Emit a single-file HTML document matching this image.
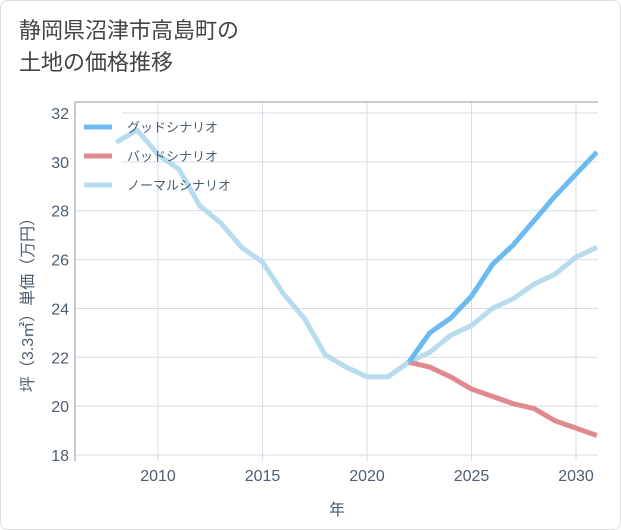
<!DOCTYPE html>
<html><head><meta charset="utf-8">
<style>
body{margin:0;background:#fff;}
#wrap{position:relative;width:619px;height:528px;border:1px solid #ddd;border-radius:8px;overflow:hidden;background:#fff;font-family:"Liberation Sans","Noto Sans CJK JP",sans-serif;}
h1{position:absolute;left:18px;top:14px;margin:0;font-size:22px;font-weight:normal;color:#444;line-height:32px;}
</style></head><body>
<div id="wrap">
<h1>静岡県沼津市高島町の<br>土地の価格推移</h1>
<svg id="chart" width="621" height="530" style="position:absolute;left:0;top:0"></svg>
</div>
<script>
const years=[2008,2009,2010,2011,2012,2013,2014,2015,2016,2017,2018,2019,2020,2021,2022,2023,2024,2025,2026,2027,2028,2029,2030,2031];
const normal=[30.8,31.3,30.3,29.7,28.2,27.5,26.5,25.9,24.6,23.6,22.1,21.6,21.2,21.2,21.8,22.2,22.9,23.3,24.0,24.4,25.0,25.4,26.1,26.5];
const goodYears=[2022,2023,2024,2025,2026,2027,2028,2029,2030,2031];
const good=[21.8,23.0,23.6,24.5,25.8,26.6,27.6,28.6,29.5,30.4];
const bad=[21.8,21.6,21.2,20.7,20.4,20.1,19.9,19.4,19.1,18.8];
const xTicks=[2010,2015,2020,2025,2030];
const yTicks=[18,20,22,24,26,28,30,32];
const legendLabels=["グッドシナリオ","バッドシナリオ","ノーマルシナリオ"];

const NS="http://www.w3.org/2000/svg";
const svg=document.getElementById('chart');
const L=74,R=597,T=101,B=460;
const TXT='#4d5e6e';
const x=v=>157+(v-2010)*20.9;
const y=v=>112+(32-v)*24.43;
function mk(t,a){const e=document.createElementNS(NS,t);for(const k in a)e.setAttribute(k,a[k]);svg.appendChild(e);return e;}
for(const t of xTicks){const l=mk('line',{x1:x(t),x2:x(t),y1:T,y2:B,stroke:'#d5dde5'});


const tx=mk('text',{x:x(t),y:480,'text-anchor':'middle','font-size':16,fill:TXT});tx.textContent=t;

}
for(const t of yTicks){const l=mk('line',{x1:L,x2:R,y1:y(t),y2:y(t),stroke:'#d5dde5'});


const tx=mk('text',{x:68,y:y(t)+6,'text-anchor':'end','font-size':16,fill:TXT});tx.textContent=t;

}
const ax=mk('path',{d:`M${L},${B} V${T} H${R}`,fill:'none',stroke:'#bbb','stroke-width':1.5});


const xt=mk('text',{x:336,y:514,'text-anchor':'middle','font-size':16,fill:TXT});xt.textContent='年';


const yt=mk('text',{x:0,y:0,'text-anchor':'middle','font-size':16,fill:TXT,transform:'translate(32,300) rotate(-90)'});yt.textContent='坪（3.3㎡）単価（万円）';


const cp=mk('clipPath',{id:'cp'});const cr=document.createElementNS(NS,'rect');cr.setAttribute('x',L);cr.setAttribute('y',T-10);cr.setAttribute('width',R-L);cr.setAttribute('height',B-T+20);cp.appendChild(cr);
mk('rect',{x:76,y:103,width:45,height:98,fill:'#fff'});
function line(xs,vs,c,name){const p=mk('polyline',{points:xs.map((v,i)=>x(v)+','+y(vs[i])).join(' '),fill:'none',stroke:c,'stroke-width':5,'stroke-linejoin':'round','clip-path':'url(#cp)'});

}
line(years,normal,'#b7dcee','normal-line');
line(goodYears,bad,'#e08a90','bad-line');
line(goodYears,good,'#6bbaf0','good-line');
const cols=['#6bbaf0','#e08a90','#b7dcee'];
legendLabels.forEach((s,i)=>{const yy=126+i*29;
const l=mk('line',{x1:83,x2:111,y1:yy,y2:yy,stroke:cols[i],'stroke-width':5});


const t=mk('text',{x:126,y:yy+5,'font-size':13,fill:TXT});t.textContent=s;

});
</script>
</body></html>
